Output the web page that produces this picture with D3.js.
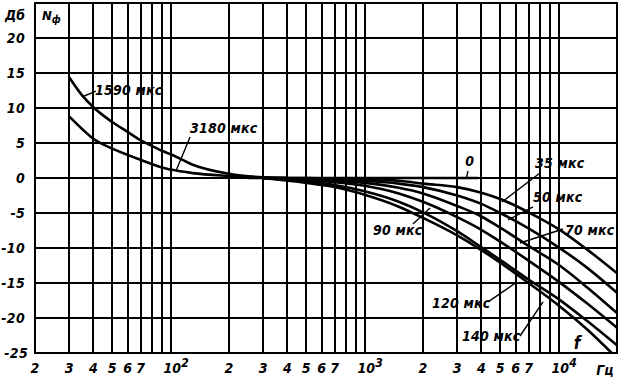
<!DOCTYPE html>
<html><head><meta charset="utf-8">
<script src="https://cdn.jsdelivr.net/npm/d3@7"></script>
<style>
body{margin:0;background:#fff}
svg{display:block}
text{font-family:"DejaVu Sans Condensed","DejaVu Sans",sans-serif;font-stretch:condensed;font-style:italic;font-weight:bold;fill:#000}
</style></head><body>
<svg id="c" width="621" height="380"></svg>
<script>
// ---- data ----
const yTickValues = [-25,-20,-15,-10,-5,0,5,10,15,20];
const yTickLabels = ["-25","-20","-15","-10","-5","0","5","10","15","20"];
const xTickValues = [20,30,40,50,60,70,100,200,300,400,500,600,700,1000,2000,3000,4000,5000,6000,7000,10000];
const xTickLabels = ["2","3","4","5","6","7","10^2","2","3","4","5","6","7","10^3","2","3","4","5","6","7","10^4"];
const xGridValues = [30,40,50,60,70,80,90,100,200,300,400,500,600,700,800,900,1000,2000,3000,4000,5000,6000,7000,8000,9000,10000];

const lowFreq = [30,35,40,50,60,70,80,90,100,130,200,300,400];
const n1590 = [14.4,11.8,10.1,8.0,6.6,5.4,4.6,3.9,3.4,1.9,0.6,0.1,0];
const n3180 = [8.8,7.0,5.6,4.2,3.3,2.6,2.0,1.5,1.2,0.7,0.3,0.05,0];

const zeroFreq = [250,3840];
const n0 = [0,0];

const highFreq = [300,500,700,1000,1500,2000,3000,4000,5000,7000,10000,14000,20000];
const n35  = [0,0,-0.1,-0.2,-0.4,-0.8,-1.3,-2.1,-3.0,-4.9,-7.3,-10.2,-13.6];
const n50  = [0,-0.1,-0.2,-0.4,-0.8,-1.3,-2.5,-3.7,-5.0,-7.2,-9.9,-12.8,-16.4];
const n70  = [0,-0.2,-0.4,-0.7,-1.4,-2.2,-4.0,-5.5,-7.1,-9.7,-12.4,-15.6,-19.3];
const n90  = [0,-0.3,-0.6,-1.1,-2.2,-3.4,-5.6,-7.4,-9.1,-11.8,-14.8,-17.9,-21.4];
const n120 = [0,-0.5,-1.0,-1.9,-3.4,-4.9,-7.6,-9.9,-11.7,-14.5,-17.3,-20.4,-23.9];
const freq140 = [300,500,700,1000,1500,2000,3000,4000,5000,7000,10000,14000,18800];
const n140 = [0,-0.7,-1.3,-2.4,-4.1,-5.7,-8.2,-10.3,-12.1,-15.0,-18.2,-21.6,-25];

const seriesNames = ["1590 мкс","3180 мкс","0","35 мкс","50 мкс","70 мкс","90 мкс","120 мкс","140 мкс"];

// ---- layout ----
const svg = d3.select("#c");
const x = d3.scaleLog().domain([20,20000]).range([35,617]);
const y = d3.scaleLinear().domain([-25,25]).range([353,3]);
const X = v => Math.round(x(v));
const Y = v => Math.round(y(v));

const grid = svg.append("g").attr("stroke","#000").attr("stroke-width",2).attr("fill","none");
grid.selectAll("line.v").data(xGridValues).join("line")
  .attr("x1",d=>X(d)).attr("x2",d=>X(d)).attr("y1",y(25)).attr("y2",y(-25));
grid.selectAll("line.h").data(yTickValues.filter(d=>d>-25)).join("line").attr("class","h")
  .attr("x1",x(20)).attr("x2",x(20000)).attr("y1",d=>Y(d)).attr("y2",d=>Y(d));
grid.append("rect").attr("x",x(20)).attr("y",y(25)).attr("width",x(20000)-x(20)).attr("height",y(-25)-y(25));

// y tick labels
svg.append("g").selectAll("text").data(yTickValues).join("text")
  .attr("x",d=>d===-25?28:25).attr("y",d=>Y(d)+5).attr("text-anchor","end")
  .attr("font-size",14).attr("letter-spacing",0.3)
  .text((d,i)=>yTickLabels[i]);

// x tick labels
const xl = svg.append("g").selectAll("text").data(xTickValues).join("text")
  .attr("x",d=>x(d)).attr("y",373).attr("text-anchor","middle").attr("font-size",14);
xl.each(function(d,i){
  const lab = xTickLabels[i];
  const t = d3.select(this);
  if(lab.includes("^")){
    const [b,e] = lab.split("^");
    t.attr("text-anchor","start").attr("x",x(d)-7);
    t.append("tspan").text(b);
    t.append("tspan").attr("font-size",12).attr("dy",-6).text(e);
  } else t.text(lab);
});

// axis titles
svg.append("text").attr("x",5).attr("y",20).attr("font-size",14).text("Дб");
const nt = svg.append("text").attr("x",42).attr("y",20).attr("font-size",13);
nt.append("tspan").text("N");
nt.append("tspan").attr("font-size",10).attr("dy",3).text("ф");
svg.append("text").attr("x",605).attr("y",375).attr("text-anchor","middle").attr("font-size",14).text("Гц");
svg.append("text").attr("x",x(12442)).attr("y",y(-24.43)).attr("text-anchor","middle").attr("font-size",17).text("f");

// curves
const line = d3.line().x(d=>x(d[0])).y(d=>y(d[1])).curve(d3.curveMonotoneX);
const curves = [
  [lowFreq,n1590],[lowFreq,n3180],[zeroFreq,n0],
  [highFreq,n35],[highFreq,n50],[highFreq,n70],[highFreq,n90],[highFreq,n120],[freq140,n140]
];
svg.append("g").selectAll("path").data(curves).join("path")
  .attr("d",c=>line(c[0].map((f,i)=>[f,c[1][i]])))
  .attr("fill","none").attr("stroke","#000").attr("stroke-width",2.6).attr("stroke-linejoin","round");

// curve labels with leaders (data coordinates)
const ann = [
  {i:0, tf:40.8, td:11.86, a:[41.2,12.4], b:[34.9,11.57]},
  {i:1, tf:125.9, td:6.43, a:[126,5.86], b:[106.6,1.0]},
  {i:2, tf:3300, td:1.71, a:[3412,1.0], b:[3350,0.05]},
  {i:3, tf:7558, td:1.43, a:[8022,0.71], b:[5108,-3.43]},
  {i:4, tf:7380, td:-3.43, a:[7380,-4.14], b:[5486,-6.0]},
  {i:5, tf:10790, td:-8.14, a:[10534,-7.29], b:[6325,-9.29]},
  {i:6, tf:1105, td:-8.14, a:[1776,-6.57], b:[2174,-4.29]},
  {i:7, tf:2227, td:-18.57, a:[4326,-17.7], b:[6103,-14.86]},
  {i:8, tf:3177, td:-23.29, a:[6325,-22.57], b:[8312,-17.71]}
];
const ag = svg.append("g");
ag.selectAll("line").data(ann).join("line")
  .attr("x1",d=>x(d.a[0])).attr("y1",d=>y(d.a[1])).attr("x2",d=>x(d.b[0])).attr("y2",d=>y(d.b[1]))
  .attr("stroke","#000").attr("stroke-width",1.4);
ag.selectAll("text").data(ann).join("text")
  .attr("x",d=>x(d.tf)).attr("y",d=>y(d.td)).attr("font-size",14).attr("letter-spacing",0.2)
  .text(d=>seriesNames[d.i]);
</script></body></html>
